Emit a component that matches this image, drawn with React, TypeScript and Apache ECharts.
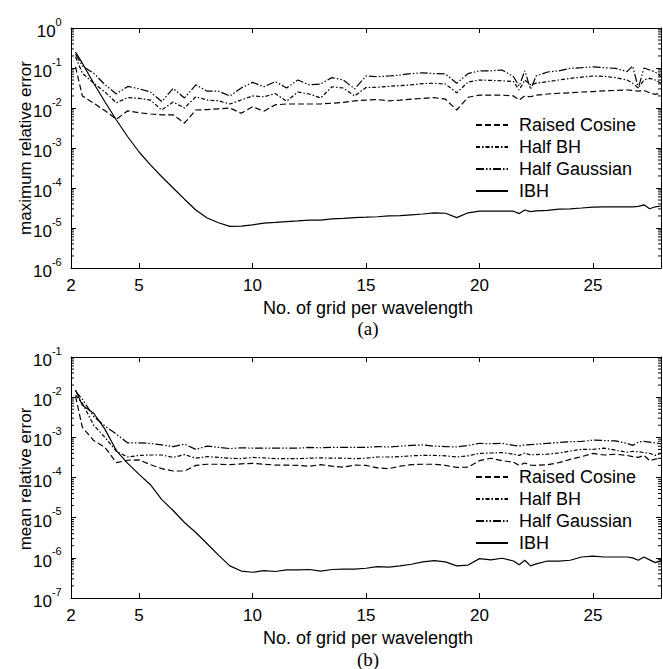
import React, { useEffect, useRef } from 'react';
import * as echarts from 'echarts';

const X = [2.2, 2.5, 3, 3.5, 4, 4.5, 5, 5.5, 6, 6.5, 7, 7.5, 8, 8.5, 9, 9.5, 10, 10.5, 11, 11.5, 12, 12.5, 13, 13.5, 14, 14.5, 15, 15.5, 16, 16.5, 17, 17.5, 18, 18.5, 19, 19.5, 20, 20.5, 21, 21.5, 21.75, 22, 22.25, 22.5, 23, 23.5, 24, 24.5, 25, 25.5, 26, 26.5, 26.75, 27, 27.25, 27.5, 27.75, 28];

const maxRaisedCosine = [0.107, 0.02, 0.0132, 0.0085, 0.00525, 0.0085, 0.00759, 0.00708, 0.00676, 0.00676, 0.00417, 0.00891, 0.00912, 0.00955, 0.01, 0.00741, 0.0107, 0.00832, 0.012, 0.0126, 0.0126, 0.0126, 0.0126, 0.0132, 0.0138, 0.0151, 0.0158, 0.0162, 0.0151, 0.0158, 0.0166, 0.0174, 0.0182, 0.0166, 0.00891, 0.0186, 0.0209, 0.0209, 0.0209, 0.02, 0.0158, 0.02, 0.0191, 0.0209, 0.0224, 0.0234, 0.024, 0.0251, 0.0257, 0.0269, 0.0275, 0.0282, 0.0275, 0.0263, 0.0275, 0.024, 0.0219, 0.024];
const maxHalfBH = [0.191, 0.0741, 0.0417, 0.0251, 0.0135, 0.0182, 0.0174, 0.0158, 0.00891, 0.0141, 0.01, 0.0191, 0.0158, 0.0151, 0.0126, 0.0158, 0.02, 0.0191, 0.0229, 0.0148, 0.0251, 0.0224, 0.0178, 0.0339, 0.0316, 0.02, 0.0324, 0.0331, 0.0347, 0.0363, 0.038, 0.0407, 0.0417, 0.0398, 0.024, 0.0447, 0.0501, 0.049, 0.0479, 0.0457, 0.0282, 0.0501, 0.038, 0.0417, 0.0457, 0.0501, 0.055, 0.0589, 0.0631, 0.0617, 0.0575, 0.0501, 0.0417, 0.0316, 0.0501, 0.055, 0.0501, 0.0417];
const maxHalfGaussian = [0.224, 0.112, 0.0741, 0.038, 0.0224, 0.0347, 0.0302, 0.0251, 0.0145, 0.0309, 0.0178, 0.038, 0.0263, 0.0263, 0.02, 0.0316, 0.0437, 0.0339, 0.0457, 0.0316, 0.0501, 0.038, 0.0398, 0.0575, 0.0501, 0.0302, 0.0631, 0.0603, 0.0631, 0.0668, 0.0724, 0.0759, 0.0724, 0.0708, 0.0417, 0.0724, 0.0851, 0.0851, 0.0891, 0.0603, 0.0355, 0.0851, 0.0295, 0.0631, 0.0794, 0.0851, 0.0977, 0.102, 0.107, 0.102, 0.0977, 0.0813, 0.112, 0.0316, 0.1, 0.0891, 0.0794, 0.0603];
const maxIBH = [0.251, 0.132, 0.0417, 0.0141, 0.00501, 0.00191, 7.94e-4, 3.8e-4, 1.91e-4, 1.0e-4, 5.25e-5, 2.82e-5, 1.78e-5, 1.35e-5, 1.1e-5, 1.12e-5, 1.2e-5, 1.32e-5, 1.38e-5, 1.45e-5, 1.51e-5, 1.58e-5, 1.58e-5, 1.7e-5, 1.74e-5, 1.82e-5, 1.86e-5, 1.91e-5, 2.0e-5, 2.04e-5, 2.14e-5, 2.24e-5, 2.4e-5, 2.34e-5, 1.82e-5, 2.4e-5, 2.63e-5, 2.63e-5, 2.63e-5, 2.63e-5, 2.29e-5, 2.82e-5, 2.57e-5, 2.69e-5, 2.75e-5, 2.95e-5, 3.02e-5, 3.16e-5, 3.31e-5, 3.39e-5, 3.39e-5, 3.39e-5, 3.39e-5, 3.47e-5, 3.8e-5, 3.02e-5, 3.39e-5, 3.55e-5];

const meanRaisedCosine = [0.0105, 0.00178, 8.32e-4, 5.62e-4, 2.34e-4, 2.69e-4, 2.75e-4, 2.09e-4, 1.66e-4, 1.45e-4, 1.45e-4, 2.0e-4, 2.14e-4, 2.14e-4, 2.09e-4, 2.19e-4, 2.24e-4, 2.14e-4, 2.04e-4, 2.04e-4, 2.0e-4, 1.91e-4, 2.09e-4, 1.91e-4, 1.82e-4, 2.04e-4, 2.0e-4, 1.74e-4, 1.66e-4, 1.91e-4, 2.09e-4, 2.14e-4, 2.14e-4, 2.0e-4, 1.78e-4, 1.82e-4, 2.63e-4, 3.02e-4, 2.63e-4, 2.4e-4, 2.0e-4, 2.29e-4, 2.04e-4, 2.0e-4, 2.09e-4, 2.34e-4, 2.82e-4, 3.31e-4, 3.98e-4, 3.63e-4, 3.8e-4, 3.55e-4, 3.31e-4, 3.16e-4, 3.55e-4, 2.63e-4, 2.88e-4, 3.02e-4];
const meanHalfBH = [0.0112, 0.00708, 0.002, 0.001, 4.47e-4, 3.24e-4, 3.55e-4, 3.63e-4, 3.63e-4, 3.16e-4, 3.72e-4, 3.02e-4, 3.31e-4, 3.16e-4, 3.02e-4, 2.95e-4, 3.16e-4, 3.09e-4, 2.95e-4, 2.95e-4, 2.95e-4, 3.02e-4, 3.09e-4, 3.02e-4, 3.02e-4, 2.95e-4, 3.02e-4, 3.24e-4, 3.24e-4, 3.31e-4, 3.47e-4, 3.55e-4, 3.55e-4, 3.47e-4, 3.24e-4, 3.47e-4, 3.98e-4, 4.07e-4, 4.17e-4, 3.8e-4, 3.55e-4, 4.07e-4, 3.63e-4, 3.72e-4, 3.8e-4, 4.07e-4, 4.57e-4, 5.01e-4, 5.01e-4, 5.37e-4, 4.79e-4, 4.27e-4, 4.47e-4, 4.37e-4, 4.17e-4, 3.98e-4, 3.55e-4, 3.98e-4];
const meanHalfGaussian = [0.0141, 0.00891, 0.00331, 0.00191, 0.0012, 7.24e-4, 7.24e-4, 7.08e-4, 6.46e-4, 5.89e-4, 6.76e-4, 5.01e-4, 6.03e-4, 5.62e-4, 5.25e-4, 5.5e-4, 5.37e-4, 5.37e-4, 5.37e-4, 5.37e-4, 5.37e-4, 5.62e-4, 5.5e-4, 5.62e-4, 5.62e-4, 5.62e-4, 5.62e-4, 5.89e-4, 5.75e-4, 6.03e-4, 6.31e-4, 6.46e-4, 6.03e-4, 5.89e-4, 5.75e-4, 6.31e-4, 7.08e-4, 6.92e-4, 7.08e-4, 6.31e-4, 6.03e-4, 6.46e-4, 6.61e-4, 6.76e-4, 7.08e-4, 7.41e-4, 7.76e-4, 7.94e-4, 8.51e-4, 8.32e-4, 8.13e-4, 7.08e-4, 6.31e-4, 7.59e-4, 7.94e-4, 7.59e-4, 7.24e-4, 6.92e-4];
const meanIBH = [0.0151, 0.00631, 0.00398, 0.00158, 4.68e-4, 2.24e-4, 1.2e-4, 6.61e-5, 2.82e-5, 1.51e-5, 7.59e-6, 4.27e-6, 2.24e-6, 1.17e-6, 6.31e-7, 4.68e-7, 4.37e-7, 4.79e-7, 4.57e-7, 5.01e-7, 5.01e-7, 5.13e-7, 4.68e-7, 5.13e-7, 5.25e-7, 5.25e-7, 5.5e-7, 6.03e-7, 5.89e-7, 6.31e-7, 6.92e-7, 7.94e-7, 8.51e-7, 7.94e-7, 6.31e-7, 6.61e-7, 9.55e-7, 8.91e-7, 9.77e-7, 8.32e-7, 6.76e-7, 8.71e-7, 6.31e-7, 7.08e-7, 8.32e-7, 8.32e-7, 8.71e-7, 1.05e-6, 1.1e-6, 1.05e-6, 1.05e-6, 1.05e-6, 1.0e-6, 8.71e-7, 1.05e-6, 8.91e-7, 7.59e-7, 8.51e-7];

const SERIES_NAMES = ['Raised Cosine', 'Half BH', 'Half Gaussian', 'IBH'];
const X_LABELS = [2, 5, 10, 15, 20, 25];
const X_TICKS = [5, 10, 15, 20, 25];
const X_MIN = 2;
const X_MAX = 28;
const TOP_DECADES = [-6, -5, -4, -3, -2, -1];
const BOTTOM_DECADES = [-7, -6, -5, -4, -3, -2];
const MANTISSAS = [2, 3, 4, 5, 6, 7, 8, 9];

const SANS = '"Liberation Sans", Arial, Helvetica, sans-serif';
const SERIF = '"Liberation Serif", "Times New Roman", serif';

const DASHES: any[] = [[6, 3], [4, 2, 1.5, 2], [8, 2, 1.5, 2, 1.5, 2], 'solid'];

function minorValues(decades: number[]) {
  const out: number[][] = [];
  decades.forEach((d) => MANTISSAS.forEach((m) => out.push([X_MIN, m * Math.pow(10, d)])));
  return out;
}

export default function App() {
  const ref = useRef<HTMLDivElement>(null);
  useEffect(() => {
    if (!ref.current) return;
    const chart = echarts.init(ref.current, undefined, { renderer: 'svg' });

    const grids = [
      { left: 71, top: 28, width: 590, height: 240 },
      { left: 71, top: 357, width: 590, height: 241 },
    ];

    const xAxisBase = (gridIndex: number, position: string, showLabel: boolean) => ({
      type: 'value',
      gridIndex,
      position,
      min: X_MIN,
      max: X_MAX,
      axisLine: { show: true, lineStyle: { color: '#000', width: 1 } },
      axisTick: { show: true, inside: true, length: 5, customValues: X_TICKS, lineStyle: { color: '#000' } },
      axisLabel: {
        show: showLabel,
        customValues: X_LABELS,
        margin: 9,
        color: '#000',
        fontSize: 17,
        fontFamily: SANS,
      },
      splitLine: { show: false },
    });

    const yAxisBase = (gridIndex: number, position: string, min: number, max: number, showLabel: boolean) => ({
      type: 'log',
      logBase: 10,
      gridIndex,
      position,
      min,
      max,
      axisLine: { show: true, lineStyle: { color: '#000', width: 1 } },
      axisTick: { show: true, inside: true, length: 5, lineStyle: { color: '#000' } },
      axisLabel: {
        show: showLabel,
        margin: 9,
        formatter: (v: number) => `{b|10}{s|${Math.round(Math.log10(v))}}{h| }`,
        rich: {
          b: { fontSize: 17, lineHeight: 16, verticalAlign: 'bottom', color: '#000', fontFamily: SANS },
          s: { fontSize: 11, lineHeight: 12, verticalAlign: 'top', color: '#000', fontFamily: SANS },
          h: { fontSize: 1, lineHeight: 24 },
        },
      },
      splitLine: { show: false },
    });

    const lineSeries = (name: string, values: number[], idx: number, axisIdx: number) => ({
      type: 'line',
      name,
      xAxisIndex: axisIdx * 2,
      yAxisIndex: axisIdx * 2,
      data: X.map((x, i) => [x, values[i]]),
      symbol: 'none',
      showSymbol: false,
      lineStyle: { color: '#000', width: 1.2, type: DASHES[idx] },
      itemStyle: { color: '#000' },
      clip: true,
    });

    const minorSeries = (decades: number[], axisIdx: number) => ({
      type: 'custom',
      xAxisIndex: axisIdx * 2,
      yAxisIndex: axisIdx * 2,
      silent: true,
      clip: false,
      data: minorValues(decades),
      encode: { x: 0, y: 1 },
      renderItem: (_p: any, api: any) => {
        const v = api.value(1);
        const l = api.coord([X_MIN, v]);
        const r = api.coord([X_MAX, v]);
        return {
          type: 'group',
          children: [
            { type: 'line', shape: { x1: l[0], y1: l[1], x2: l[0] + 3, y2: l[1] }, style: { stroke: '#000', lineWidth: 1 } },
            { type: 'line', shape: { x1: r[0], y1: r[1], x2: r[0] - 3, y2: r[1] }, style: { stroke: '#000', lineWidth: 1 } },
          ],
        };
      },
    });

    const legendBase = (top: number) => ({
      orient: 'vertical',
      left: 470,
      top,
      itemWidth: 32,
      itemHeight: 14,
      itemGap: 4,
      data: SERIES_NAMES,
      selectedMode: false,
      itemStyle: { color: 'rgba(0,0,0,0)', borderColor: 'rgba(0,0,0,0)', borderWidth: 0, opacity: 0 },
      textStyle: { color: '#000', fontSize: 18, lineHeight: 18, fontFamily: SANS, padding: [0, 0, 0, 6] },
    });

    const text = (x: number, y: number, t: string, font: string, size: number, rotation = 0) => ({
      type: 'text',
      x,
      y,
      rotation,
      style: {
        text: t,
        fontSize: size,
        fontFamily: font,
        fill: '#000',
        align: 'center',
        verticalAlign: 'middle',
        textAlign: 'center',
        textVerticalAlign: 'middle',
      },
    });

    const maxSets = [maxRaisedCosine, maxHalfBH, maxHalfGaussian, maxIBH];
    const meanSets = [meanRaisedCosine, meanHalfBH, meanHalfGaussian, meanIBH];

    chart.setOption({
      animation: false,
      backgroundColor: '#fff',
      grid: grids,
      legend: [legendBase(111), legendBase(463)],
      xAxis: [
        xAxisBase(0, 'bottom', true),
        xAxisBase(0, 'top', false),
        xAxisBase(1, 'bottom', true),
        xAxisBase(1, 'top', false),
      ],
      yAxis: [
        yAxisBase(0, 'left', 1e-6, 1, true),
        yAxisBase(0, 'right', 1e-6, 1, false),
        yAxisBase(1, 'left', 1e-7, 1e-1, true),
        yAxisBase(1, 'right', 1e-7, 1e-1, false),
      ],
      series: [
        ...SERIES_NAMES.map((n, i) => lineSeries(n, maxSets[i], i, 0)),
        ...SERIES_NAMES.map((n, i) => lineSeries(n, meanSets[i], i, 1)),
        minorSeries(TOP_DECADES, 0),
        minorSeries(BOTTOM_DECADES, 1),
      ],
      graphic: [
        text(368, 308, 'No. of grid per wavelength', SANS, 18),
        text(368, 328, '(a)', SERIF, 19),
        text(368, 638, 'No. of grid per wavelength', SANS, 18),
        text(368, 659, '(b)', SERIF, 19),
        text(25, 148, 'maximum relative error', SANS, 17, Math.PI / 2),
        text(25, 479, 'mean relative error', SANS, 17, Math.PI / 2),
      ],
    });

    return () => chart.dispose();
  }, []);

  return (
    <div
      ref={ref}
      style={{ position: 'absolute', left: 0, top: 0, width: 663, height: 669, background: '#fff' }}
    />
  );
}
